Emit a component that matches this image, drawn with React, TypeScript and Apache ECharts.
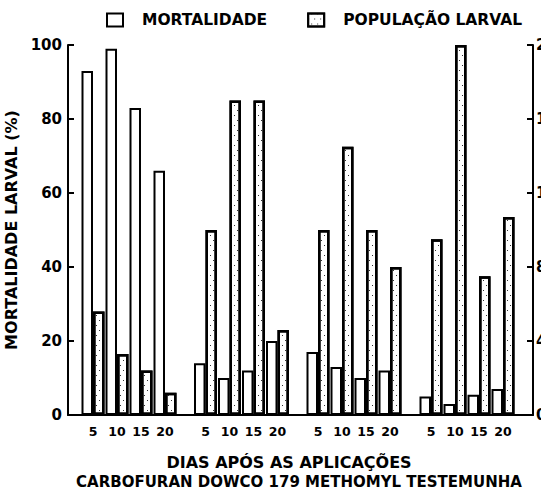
import React, { useEffect, useRef } from "react";
import * as echarts from "echarts";

const groups = ["CARBOFURAN", "DOWCO 179", "METHOMYL", "TESTEMUNHA"];
const days = ["5", "10", "15", "20"];
// Mortalidade larval (%), left axis
const mortality = [
  [93, 99, 83, 66],
  [14, 10, 12, 20],
  [17, 13, 10, 12],
  [5, 3, 5.5, 7],
];
// População larval, right axis (0-20)
const population = [
  [5.6, 3.3, 2.4, 1.2],
  [10, 17, 17, 4.6],
  [10, 14.5, 10, 8],
  [9.5, 20, 7.5, 10.7],
];
const leftTicks = { min: 0, max: 100, interval: 20 };
const rightTicks = { min: 0, max: 20, interval: 4 };

const FONT = "DejaVu Sans";
const groupLefts = [81, 193.5, 306, 419];
const groupWidth = 96;

export default function App() {
  const ref = useRef<HTMLDivElement>(null);
  useEffect(() => {
    if (!ref.current) return;
    const chart = echarts.init(ref.current, undefined, { renderer: "svg" });
    const grids: any[] = [
      { left: 68, right: 8, top: 45, bottom: 83, outerBoundsMode: "none", containLabel: false },
    ];
    groupLefts.forEach((l) =>
      grids.push({ left: l, width: groupWidth, top: 45, bottom: 83, outerBoundsMode: "none", containLabel: false })
    );
    const xAxes: any[] = [
      {
        type: "value",
        gridIndex: 0,
        min: 0,
        max: 1,
        axisLine: { show: true, lineStyle: { color: "#000", width: 2 } },
        axisTick: { show: false },
        axisLabel: { show: false },
        splitLine: { show: false },
      },
    ];
    const yAxes: any[] = [
      {
        type: "value",
        gridIndex: 0,
        position: "left",
        ...leftTicks,
        name: "MORTALIDADE LARVAL (%)",
        nameLocation: "middle",
        nameGap: 43,
        nameTextStyle: { fontFamily: FONT, fontWeight: "bold", fontSize: 16, color: "#000" },
        axisLine: { show: true, lineStyle: { color: "#000", width: 2 } },
        axisTick: { show: true, inside: true, length: 6, lineStyle: { color: "#000", width: 2 } },
        axisLabel: { fontFamily: FONT, fontWeight: "bold", fontSize: 15, color: "#000", margin: 6 },
        splitLine: { show: false },
      },
      {
        type: "value",
        gridIndex: 0,
        position: "right",
        ...rightTicks,
        axisLine: { show: true, lineStyle: { color: "#000", width: 2 } },
        axisTick: { show: true, inside: true, length: 6, lineStyle: { color: "#000", width: 2 } },
        axisLabel: { fontFamily: FONT, fontWeight: "bold", fontSize: 15, color: "#000", margin: 3 },
        splitLine: { show: false },
      },
    ];
    const series: any[] = [];
    groups.forEach((g, gi) => {
      const gridIndex = gi + 1;
      xAxes.push({
        type: "category",
        gridIndex,
        data: days,
        axisLine: { show: false },
        axisTick: { show: false },
        axisLabel: { fontFamily: FONT, fontWeight: "bold", fontSize: 12.5, color: "#000", margin: 10 },
      });
      const yl = yAxes.length;
      yAxes.push({ type: "value", gridIndex, ...leftTicks, show: false });
      yAxes.push({ type: "value", gridIndex, ...rightTicks, show: false });
      series.push({
        type: "bar",
        name: "MORTALIDADE",
        xAxisIndex: gridIndex,
        yAxisIndex: yl,
        data: mortality[gi],
        barWidth: 11.5,
        barGap: "0%",
        itemStyle: { color: "#fff", borderColor: "#000", borderWidth: 2 },
      });
      series.push({
        type: "bar",
        name: "POPULAÇÃO LARVAL",
        xAxisIndex: gridIndex,
        yAxisIndex: yl + 1,
        data: population[gi],
        barWidth: 11.5,
        barGap: "0%",
        itemStyle: {
          color: "#fff",
          borderColor: "#000",
          borderWidth: 2.5,
          decal: {
            symbol: "rect",
            symbolSize: 1,
            color: "#333",
            backgroundColor: "#fff",
            dashArrayX: [[1, 5], [0, 3, 1, 2]],
            dashArrayY: [1, 4],
            rotation: 0,
          },
        },
      });
    });
    chart.setOption({
      animation: false,
      backgroundColor: "#fff",
      legend: {
        top: 12,
        left: 106,
        padding: 0,
        icon: "rect",
        itemWidth: 16,
        itemHeight: 13,
        itemGap: 40,
        itemStyle: { borderWidth: 2 },
        textStyle: { fontFamily: FONT, fontWeight: "bold", fontSize: 15.5, color: "#000", padding: [0, 0, 0, 14] },
        data: ["MORTALIDADE", "POPULAÇÃO LARVAL"],
      },
      grid: grids,
      xAxis: xAxes,
      yAxis: yAxes,
      series,
      graphic: [
        {
          type: "text",
          x: 289,
          y: 462,
          style: {
            text: "DIAS APÓS AS APLICAÇÕES",
            fontFamily: FONT,
            fontWeight: "bold",
            fontSize: 16,
            fill: "#000",
            align: "center",
            verticalAlign: "middle",
          },
        },
        {
          type: "text",
          x: 299,
          y: 482,
          style: {
            text: groups.join(" "),
            fontFamily: FONT,
            fontWeight: "bold",
            fontSize: 15,
            fill: "#000",
            align: "center",
            verticalAlign: "middle",
          },
        },
      ],
    });
    return () => chart.dispose();
  }, []);
  return (
    <div
      ref={ref}
      style={{ position: "absolute", left: 0, top: 0, width: 541, height: 498 }}
    />
  );
}
